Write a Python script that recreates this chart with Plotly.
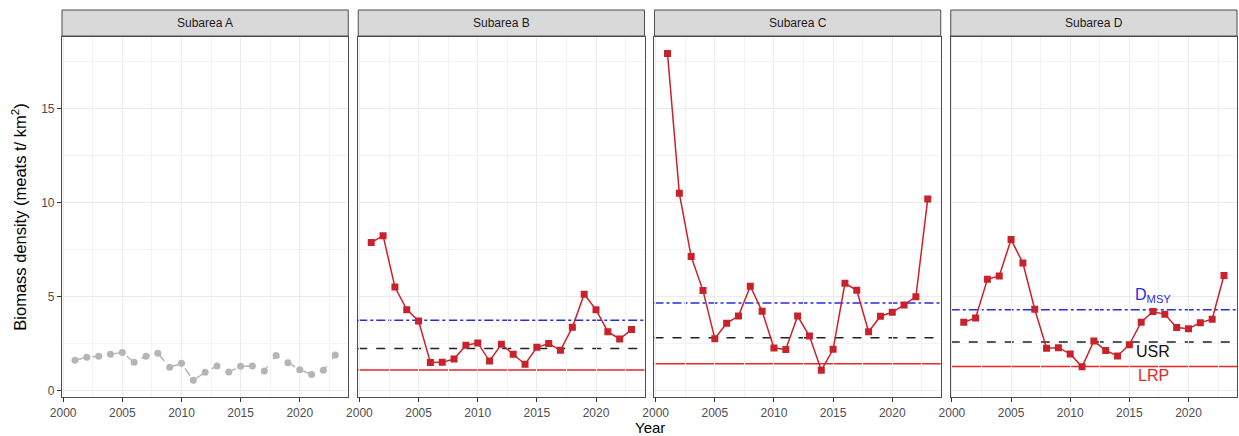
import plotly.graph_objects as go

years = list(range(2001, 2024))
subareas = ["Subarea A", "Subarea B", "Subarea C", "Subarea D"]

dens_a = [1.63, 1.79, 1.84, 1.95, 2.05, 1.52, 1.84, 2.00, 1.26, 1.47, 0.57, 0.99,
          1.33, 1.01, 1.31, 1.33, 1.06, 1.89, 1.50, 1.13, 0.88, 1.10, 1.91]
dens_b = [7.88, 8.25, 5.52, 4.32, 3.72, 1.51, 1.52, 1.70, 2.43, 2.55, 1.59, 2.48,
          1.95, 1.42, 2.32, 2.52, 2.16, 3.38, 5.14, 4.32, 3.15, 2.76, 3.26]
dens_c = [17.93, 10.50, 7.14, 5.33, 2.78, 3.60, 3.98, 5.56, 4.23, 2.28, 2.20, 3.98,
          2.92, 1.10, 2.21, 5.72, 5.35, 3.15, 3.97, 4.18, 4.57, 5.01, 10.20]
dens_d = [3.65, 3.88, 5.93, 6.11, 8.04, 6.80, 4.34, 2.27, 2.30, 1.97, 1.28, 2.66,
          2.15, 1.86, 2.46, 3.65, 4.22, 4.07, 3.37, 3.31, 3.63, 3.81, 6.13]

# reference points for subareas B, C, D
dmsy = [3.75, 4.67, 4.32]
usr = [2.25, 2.83, 2.60]
lrp = [1.12, 1.44, 1.30]

ref_labels = ["D<sub>MSY</sub>", "USR", "LRP"]
label_year = 2017
label_y = [5.08, 2.10, 0.83]

x_ticks = [2000, 2005, 2010, 2015, 2020]
y_ticks = [0, 5, 10, 15]

RED = "#c8232c"
GREY_PT = "#b5b5b5"
BLUE = "#2b2bdb"
LRP_RED = "#e8262b"
FONT = "Liberation Sans, Arial, sans-serif"

fig = go.Figure()

n = 4
gap = 0.0085
w = (1 - gap * (n - 1)) / n
domains = [[i * (w + gap), i * (w + gap) + w] for i in range(n)]

all_dens = [dens_a, dens_b, dens_c, dens_d]
for i, d in enumerate(all_dens):
    xa = "x" if i == 0 else f"x{i+1}"
    ya = "y" if i == 0 else f"y{i+1}"
    if i == 0:
        fig.add_trace(go.Scatter(
            x=years, y=d, mode="lines+markers", xaxis=xa, yaxis=ya,
            line=dict(color=GREY_PT, width=1.5, dash="dash"),
            marker=dict(color=GREY_PT, size=7, symbol="circle"),
            showlegend=False, hoverinfo="x+y"))
    else:
        fig.add_trace(go.Scatter(
            x=years, y=d, mode="lines+markers", xaxis=xa, yaxis=ya,
            line=dict(color=RED, width=1.5),
            marker=dict(color=RED, size=7, symbol="square"),
            showlegend=False, hoverinfo="x+y"))

# reference lines
for j in range(3):
    k = j + 2
    xd = f"x{k} domain"
    yr = f"y{k}"
    fig.add_shape(type="line", xref=xd, yref=yr, x0=0, x1=1, y0=lrp[j], y1=lrp[j],
                  line=dict(color=LRP_RED, width=1.5), layer="below")
    fig.add_shape(type="line", xref=xd, yref=yr, x0=0, x1=1, y0=usr[j], y1=usr[j],
                  line=dict(color="#222222", width=1.5, dash="dash"), layer="below")
    fig.add_shape(type="line", xref=xd, yref=yr, x0=0, x1=1, y0=dmsy[j], y1=dmsy[j],
                  line=dict(color=BLUE, width=1.5, dash="dashdot"), layer="below")

# labels in subarea D
label_colors = [BLUE, "#111111", LRP_RED]
for t, yv, c in zip(ref_labels, label_y, label_colors):
    fig.add_annotation(x=label_year, y=yv, xref="x4", yref="y4", text=t,
                       showarrow=False, font=dict(size=16, color=c, family=FONT))

# strips
strip_h = 26 / 360
for i, name in enumerate(subareas):
    x0, x1 = domains[i]
    fig.add_shape(type="rect", xref="paper", yref="paper", x0=x0, x1=x1,
                  y0=1.0 + 1 / 360, y1=1.0 + 1 / 360 + strip_h,
                  fillcolor="#d9d9d9", line=dict(color="#4d4d4d", width=1))
    fig.add_annotation(x=(x0 + x1) / 2, y=1.0 + 1 / 360 + strip_h / 2,
                       xref="paper", yref="paper", text=name, showarrow=False,
                       font=dict(size=12, color="#1a1a1a", family=FONT),
                       xanchor="center", yanchor="middle")

# axis titles
fig.add_annotation(x=0.5, y=-30 / 360, xref="paper", yref="paper", text="Year",
                   showarrow=False, yanchor="middle",
                   font=dict(size=15, color="#000000", family=FONT))

axis_common = dict(
    showline=True, mirror=True, linecolor="#4d4d4d", linewidth=1.2,
    ticks="outside", ticklen=4, tickcolor="#333333", tickwidth=1,
    showgrid=True, gridcolor="#ebebeb", gridwidth=1,
    zeroline=False,
    tickfont=dict(size=12, color="#4d4d4d", family=FONT),
)

layout = dict(
    width=1239, height=436,
    margin=dict(l=62, r=2, t=37, b=39),
    plot_bgcolor="white", paper_bgcolor="white",
    font=dict(family=FONT),
)
for i in range(n):
    xk = "xaxis" if i == 0 else f"xaxis{i+1}"
    yk = "yaxis" if i == 0 else f"yaxis{i+1}"
    xanchor = "y" if i == 0 else f"y{i+1}"
    yanchor = "x" if i == 0 else f"x{i+1}"
    layout[xk] = dict(domain=domains[i], anchor=xanchor, range=[1999.9, 2024.1],
                      tickvals=x_ticks,
                      minor=dict(dtick=2.5, tick0=2000, showgrid=True,
                                 gridcolor="#f2f2f2", gridwidth=0.6, ticks=""),
                      **axis_common)
    ydict = dict(domain=[0, 1], anchor=yanchor, range=[-0.32, 18.8],
                 tickvals=y_ticks,
                 minor=dict(dtick=2.5, tick0=0, showgrid=True,
                            gridcolor="#f2f2f2", gridwidth=0.6, ticks=""),
                 **axis_common)
    if i > 0:
        ydict["showticklabels"] = False
        ydict["ticks"] = ""
    else:
        ydict["title"] = dict(text="Biomass density (meats t/ km<sup>2</sup>)",
                              font=dict(size=16.5, color="#000000", family=FONT),
                              standoff=10)
    layout[yk] = ydict

fig.update_layout(**layout)
fig.write_html("out.html", config={"displayModeBar": False},
               post_script="document.body.style.margin='0';document.body.style.overflow='hidden';")
